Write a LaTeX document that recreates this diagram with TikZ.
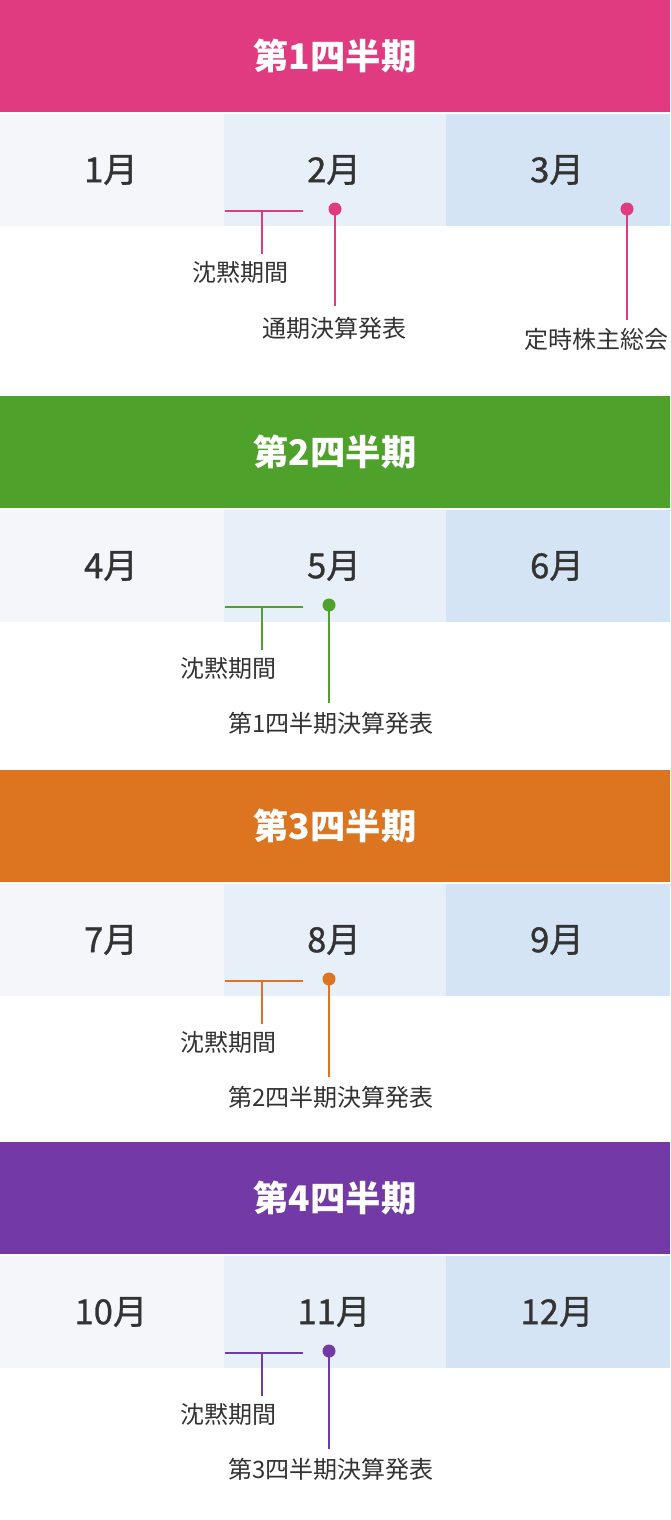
\documentclass[tikz,border=0pt]{standalone}
\usepackage{fontspec}
\setmainfont{Noto Sans CJK JP}
\newfontfamily\jpmed[FakeBold=1.0]{Noto Sans CJK JP}
\definecolor{qone}{HTML}{E03A80}
\definecolor{qtwo}{HTML}{4EA12A}
\definecolor{qthree}{HTML}{DC7420}
\definecolor{qfour}{HTML}{7339A6}
\definecolor{mA}{HTML}{F4F6FA}
\definecolor{mB}{HTML}{E7EFF9}
\definecolor{mC}{HTML}{D4E4F5}
\definecolor{txt}{HTML}{333333}
\tikzset{
  hdrtext/.style={text=white, font=\fontsize{35.3}{35.3}\selectfont\bfseries, inner sep=0pt},
  monthtext/.style={text=txt, font=\fontsize{34.5}{34.5}\jpmed, inner sep=0pt},
  lab/.style={text=txt, font=\fontsize{24}{24}\selectfont, inner sep=0pt},
  conn/.style={draw=#1, line width=2pt},
  dotmark/.style={circle, fill=#1, inner sep=0pt, minimum size=13pt},
}
\begin{document}
\begin{tikzpicture}[x=1pt, y=-1pt]
\useasboundingbox (0,0) rectangle (670,1520);
\fill[white] (0,0) rectangle (670,1520);

% ---------- Quarter 1 ----------
\begin{scope}
  \fill[qone] (0,0) rectangle (670,112);
  \node[hdrtext] (h1) at (335,56) {第1四半期};
  \fill[mA] (0,114) rectangle (224,226);
  \fill[mB] (224,114) rectangle (446,226);
  \fill[mC] (446,114) rectangle (670,226);
  \node[monthtext] (m1) at (111,170) {1月};
  \node[monthtext] (m2) at (334,170) {2月};
  \node[monthtext] (m3) at (557,170) {3月};
  \coordinate (s1l) at (225,211);
  \coordinate (s1r) at (303,211);
  \coordinate (s1m) at (262,211);
  \coordinate (s1e) at (262,254);
  \draw[conn=qone] (s1l) -- (s1r);
  \draw[conn=qone] (s1m) -- (s1e);
  \node[lab] (sl1) at (240,272) {沈黙期間};
  \node[dotmark=qone] (d1) at (335,209) {};
  \coordinate (d1e) at (335,306);
  \draw[conn=qone] (d1.center) -- (d1e);
  \node[lab] (rl1) at (334,328) {通期決算発表};
  \node[dotmark=qone] (d1b) at (627,209) {};
  \coordinate (d1be) at (627,320);
  \draw[conn=qone] (d1b.center) -- (d1be);
  \node[lab] (rl1b) at (596,339) {定時株主総会};
\end{scope}

% ---------- Quarter 2 ----------
\begin{scope}[yshift=-396pt]
  \fill[qtwo] (0,0) rectangle (670,112);
  \node[hdrtext] (h2) at (335,56) {第2四半期};
  \fill[mA] (0,114) rectangle (224,226);
  \fill[mB] (224,114) rectangle (446,226);
  \fill[mC] (446,114) rectangle (670,226);
  \node[monthtext] (m4) at (111,170) {4月};
  \node[monthtext] (m5) at (334,170) {5月};
  \node[monthtext] (m6) at (557,170) {6月};
  \coordinate (s2l) at (225,211);
  \coordinate (s2r) at (303,211);
  \coordinate (s2m) at (262,211);
  \coordinate (s2e) at (262,254);
  \draw[conn=qtwo] (s2l) -- (s2r);
  \draw[conn=qtwo] (s2m) -- (s2e);
  \node[lab] (sl2) at (228,272) {沈黙期間};
  \node[dotmark=qtwo] (d2) at (329,209) {};
  \coordinate (d2e) at (329,307);
  \draw[conn=qtwo] (d2.center) -- (d2e);
  \node[lab] (rl2) at (331,327) {第1四半期決算発表};
\end{scope}

% ---------- Quarter 3 ----------
\begin{scope}[yshift=-770pt]
  \fill[qthree] (0,0) rectangle (670,112);
  \node[hdrtext] (h3) at (335,56) {第3四半期};
  \fill[mA] (0,114) rectangle (224,226);
  \fill[mB] (224,114) rectangle (446,226);
  \fill[mC] (446,114) rectangle (670,226);
  \node[monthtext] (m7) at (111,170) {7月};
  \node[monthtext] (m8) at (334,170) {8月};
  \node[monthtext] (m9) at (557,170) {9月};
  \coordinate (s3l) at (225,211);
  \coordinate (s3r) at (303,211);
  \coordinate (s3m) at (262,211);
  \coordinate (s3e) at (262,254);
  \draw[conn=qthree] (s3l) -- (s3r);
  \draw[conn=qthree] (s3m) -- (s3e);
  \node[lab] (sl3) at (228,272) {沈黙期間};
  \node[dotmark=qthree] (d3) at (329,209) {};
  \coordinate (d3e) at (329,307);
  \draw[conn=qthree] (d3.center) -- (d3e);
  \node[lab] (rl3) at (331,327) {第2四半期決算発表};
\end{scope}

% ---------- Quarter 4 ----------
\begin{scope}[yshift=-1142pt]
  \fill[qfour] (0,0) rectangle (670,112);
  \node[hdrtext] (h4) at (335,56) {第4四半期};
  \fill[mA] (0,114) rectangle (224,226);
  \fill[mB] (224,114) rectangle (446,226);
  \fill[mC] (446,114) rectangle (670,226);
  \node[monthtext] (m10) at (111,170) {10月};
  \node[monthtext] (m11) at (334,170) {11月};
  \node[monthtext] (m12) at (557,170) {12月};
  \coordinate (s4l) at (225,211);
  \coordinate (s4r) at (303,211);
  \coordinate (s4m) at (262,211);
  \coordinate (s4e) at (262,254);
  \draw[conn=qfour] (s4l) -- (s4r);
  \draw[conn=qfour] (s4m) -- (s4e);
  \node[lab] (sl4) at (228,272) {沈黙期間};
  \node[dotmark=qfour] (d4) at (329,209) {};
  \coordinate (d4e) at (329,307);
  \draw[conn=qfour] (d4.center) -- (d4e);
  \node[lab] (rl4) at (331,327) {第3四半期決算発表};
\end{scope}
\end{tikzpicture}
\end{document}
